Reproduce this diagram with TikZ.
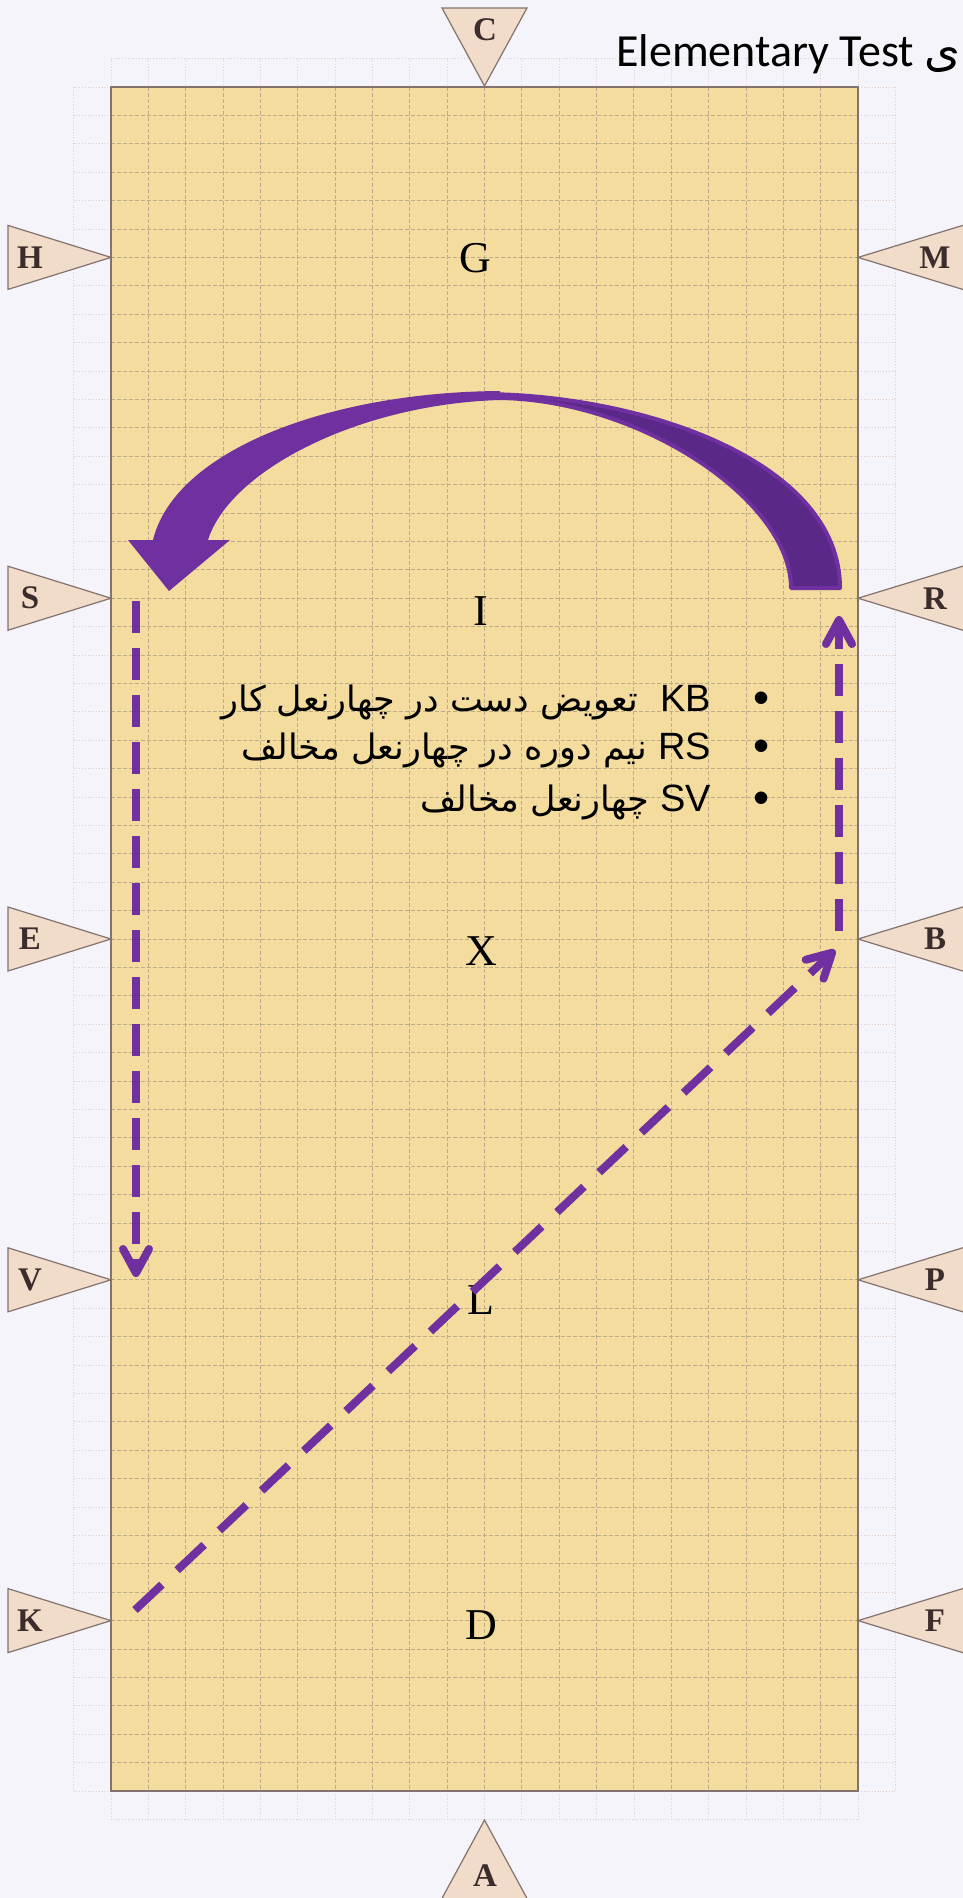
\documentclass[tikz,border=0pt]{standalone}
\usepackage{fontspec}
\setmainfont{Liberation Serif}
\newfontfamily\latinsans{Liberation Sans}
\newfontfamily\titlefont{Carlito}
\newfontfamily\arabicfont[Script=Arabic]{DejaVu Sans}
\TeXXeTstate=1
\usetikzlibrary{arrows.meta}
\definecolor{pagebg}{RGB}{245,244,250}
\definecolor{arenafill}{RGB}{243,220,158}
\definecolor{gridbrown}{RGB}{188,172,136}
\definecolor{gridpink}{RGB}{226,208,204}
\definecolor{markerfill}{RGB}{241,219,201}
\definecolor{markeredge}{RGB}{130,115,110}
\definecolor{markertext}{RGB}{60,45,45}
\definecolor{ribbon}{RGB}{112,48,160}
\definecolor{ribbondark}{RGB}{90,40,135}

\tikzset{
  marker/.style={fill=markerfill, draw=markeredge, line width=1.2pt},
  markerlabel/.style={font=\fontsize{33}{33}\selectfont\bfseries, text=markertext, inner sep=0pt},
  arenaletter/.style={font=\fontsize{44}{44}\selectfont, inner sep=0pt},
  track/.style={draw=ribbon, line width=8pt, -{Straight Barb[length=24pt, width=26pt, round]}},
  bulletline/.style={font=\arabicfont\fontsize{35}{40}\selectfont, anchor=base east, inner sep=0pt},
  bulletdot/.style={font=\latinsans\fontsize{46}{46}\selectfont, anchor=base, inner sep=0pt},
}

\begin{document}
\begin{tikzpicture}[x=1pt, y=-1pt]
  \useasboundingbox (0,0) rectangle (963,1898);
  \fill[pagebg] (0,0) rectangle (963,1898);

  % outer dotted grid
  \begin{scope}[gridpink, line width=0.8pt, dotted]
    \draw (111,58.6) -- (858,58.6);
    \draw (111,1819.4) -- (858,1819.4);
    \draw (73.65,87) -- (73.65,1791);
    \draw (895.35,87) -- (895.35,1791);
    \foreach \i in {0,...,20} {
      \draw ({111+\i*37.35},58.6) -- ++(0,28.4);
      \draw ({111+\i*37.35},1791) -- ++(0,28.4);
    }
    \foreach \j in {0,...,60} {
      \draw (73.65,{87+\j*28.4}) -- ++(37.35,0);
      \draw (858,{87+\j*28.4}) -- ++(37.35,0);
    }
  \end{scope}

  % arena
  \fill[arenafill] (111,87) rectangle (858,1791);
  \begin{scope}[gridbrown, line width=0.9pt, dash pattern=on 4pt off 2pt]
    \foreach \i in {1,...,19}
      \draw ({111+\i*37.35},87) -- ({111+\i*37.35},1791);
    \foreach \j in {1,...,59}
      \draw (111,{87+\j*28.4}) -- (858,{87+\j*28.4});
  \end{scope}
  \draw[markeredge, line width=1.3pt] (111,87) rectangle (858,1791);

  % letters round the arena
  \draw[marker] (442,8) -- (527,8) -- (484.5,86) -- cycle;
  \node[markerlabel] (mC) at (485,30) {C};
  \draw[marker] (484.5,1820) -- (440,1902) -- (529,1902) -- cycle;
  \node[markerlabel] (mA) at (485,1876) {A};
  \foreach \l/\y in {H/257.4, S/598.2, E/939, V/1279.8, K/1620.6} {
    \draw[marker] (8,\y-32) -- (111,\y) -- (8,\y+32) -- cycle;
    \node[markerlabel] (m\l) at (30,\y) {\l};
  }
  \foreach \l/\y in {M/257.4, R/598.2, B/939, P/1279.8, F/1620.6} {
    \draw[marker] (966,\y-33) -- (858,\y) -- (966,\y+33) -- cycle;
    \node[markerlabel] (m\l) at (935,\y) {\l};
  }

  % centre line letters
  \node[arenaletter] (G) at (475,258) {G};
  \node[arenaletter] (I) at (481,611) {I};
  \node[arenaletter] (X) at (481,951) {X};
  \node[arenaletter] (L) at (481,1300) {L};
  \node[arenaletter] (D) at (481,1625) {D};

  % title
  \node[font=\titlefont\fontsize{46}{46}\selectfont, anchor=base west, inner sep=0pt] (title)
    at (616,66) {Elementary Test {\arabicfont\beginR ی\endR}};

  % movements
  \node[bulletdot] (dot1) at (762,713) {•};
  \node[bulletdot] (dot2) at (762,761) {•};
  \node[bulletdot] (dot3) at (762,813) {•};
  \node[bulletline] (kb) at (711,711) {\beginR\beginL{\latinsans\fontsize{38}{40}\selectfont KB}\endL{}~~تعویض دست در چهارنعل کار\endR};
  \node[bulletline] (rs) at (711,759) {\beginR\beginL{\latinsans\fontsize{38}{40}\selectfont RS}\endL{} نیم دوره در چهارنعل مخالف\endR};
  \node[bulletline] (sv) at (711,811) {\beginR\beginL{\latinsans\fontsize{38}{40}\selectfont SV}\endL{} چهارنعل مخالف\endR};

  % half circle R to S
  \filldraw[fill=ribbondark, draw=ribbon, line width=4pt, line join=round]
    (480,394) .. controls (640,394) and (840,460) .. (840,588)
    -- (791,588) .. controls (791,500) and (640,400) .. (500,398) -- cycle;
  \fill[ribbon] (500,391) .. controls (330,392) and (175,450) .. (153,540)
    -- (128,540) -- (169,591) -- (230,540) -- (208,540)
    .. controls (230,470) and (360,404) .. (500,400) -- cycle;

  % dashed tracks
  \coordinate (sv1) at (136,601);
  \coordinate (sv2) at (136,1277);
  \coordinate (br1) at (839,931);
  \coordinate (br2) at (839,616);
  \coordinate (kb1) at (135,1610);
  \coordinate (kb2) at (835,950);
  \draw[track, dash pattern=on 32pt off 15pt] (sv1) -- (sv2);
  \draw[track, dash pattern=on 32pt off 15pt] (br1) -- (br2);
  \draw[track, dash pattern=on 37pt off 21pt] (kb1) -- (kb2);
\end{tikzpicture}
\end{document}
